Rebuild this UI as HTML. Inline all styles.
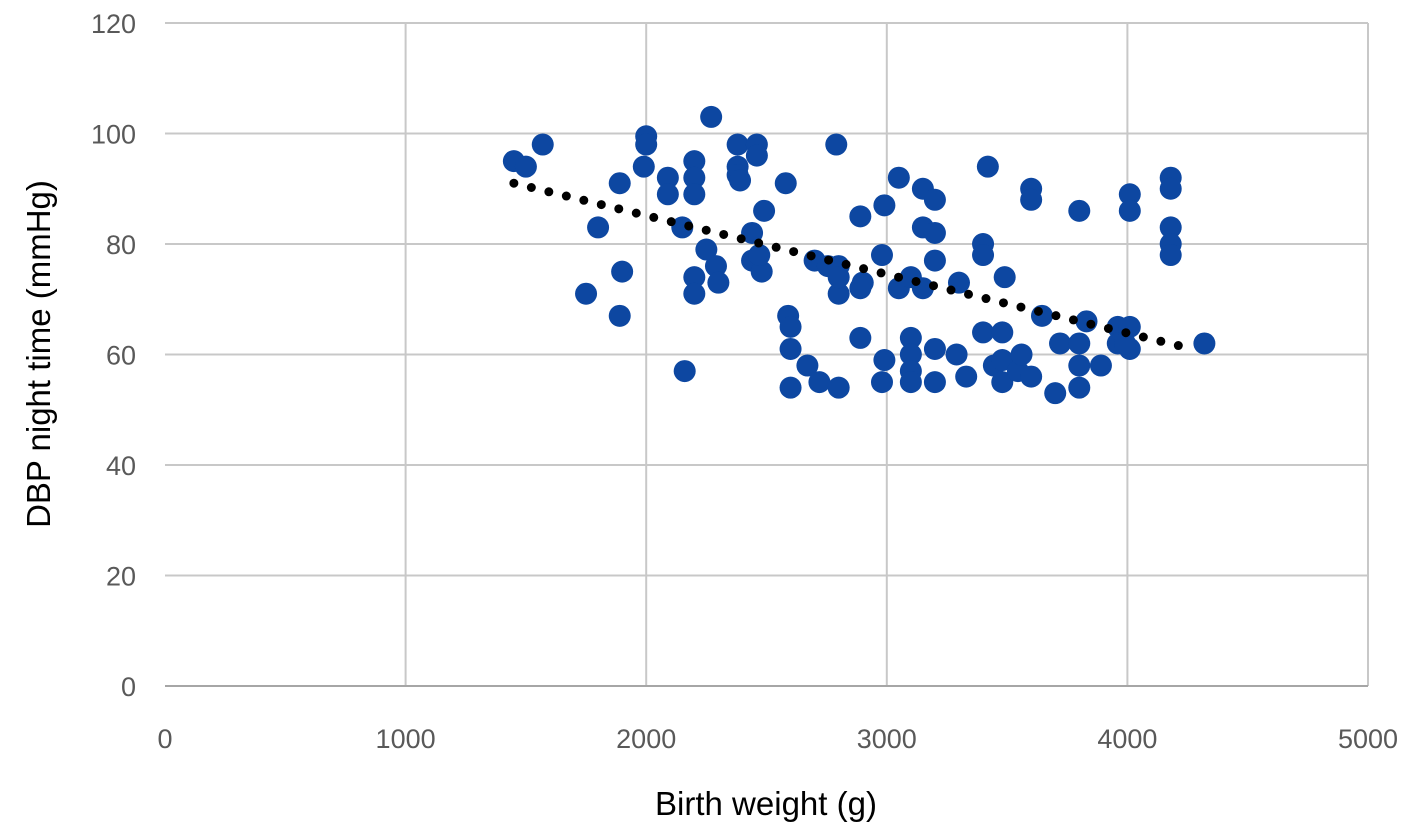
<!DOCTYPE html>
<html><head><meta charset="utf-8">
<style>
html,body{margin:0;padding:0;background:#fff;}
svg{display:block;font-family:"Liberation Sans",sans-serif;}
</style></head>
<body>
<svg id="chart" width="1416" height="831" viewBox="0 0 1416 831">
<g id="grid"></g>
<g id="axes"></g>
<g id="pts"></g>
<g id="trend"></g>
<text x="766" y="815" text-anchor="middle" font-size="33" fill="#000">Birth weight (g)</text>
<text transform="translate(50,354) rotate(-90)" text-anchor="middle" font-size="33" fill="#000">DBP night time (mmHg)</text>
</svg>
<script>
const xTicks=[0,1000,2000,3000,4000,5000];
const yTicks=[0,20,40,60,80,100,120];
const xs=[1450,1500,1570,1750,1800,1890,1900,1890,2000,2000,1990,2090,2090,2150,2160,2200,2200,2200,2200,2200,2270,2250,2290,2300,2380,2380,2380,2390,2460,2460,2440,2440,2480,2490,2470,2580,2590,2600,2600,2600,2670,2700,2720,2755,2790,2800,2800,2800,2800,2890,2900,2890,2890,2980,2980,2990,2990,3050,3050,3100,3100,3100,3100,3100,3150,3150,3150,3200,3200,3200,3200,3200,3290,3300,3330,3400,3400,3400,3420,3445,3490,3480,3480,3480,3545,3560,3600,3600,3600,3645,3700,3720,3800,3800,3800,3800,3830,3890,3960,3960,4010,4010,4010,4010,4180,4180,4180,4180,4180,4320,3990];
const ys=[95,94,98,71,83,91,75,67,99.5,98,94,92,89,83,57,95,92,89,74,71,103,79,76,73,98,94,92.5,91.5,98,96,82,77,75,86,78,91,67,65,61,54,58,77,55,76,98,71,76,74,54,85,73,72,63,55,78,87,59,92,72,74,63,60,57,55,90,83,72,88,82,77,61,55,60,73,56,80,78,64,94,58,74,64,59,55,57,60,90,88,56,67,53,62,86,62,58,54,66,58,65,62,89,86,61,65,92,90,83,80,78,62,62];
const trendX=[1450,4270];
const trendY=[91,61];
const X0=165,X1=1368,Y0=686,Y1=23;
const sx=v=>X0+(v-0)/5000*(X1-X0);
const sy=v=>Y0-(v-0)/120*(Y0-Y1);
const NS="http://www.w3.org/2000/svg";
function mk(t,a,p){const e=document.createElementNS(NS,t);for(const k in a)e.setAttribute(k,a[k]);p.appendChild(e);return e;}
const grid=document.getElementById('grid'),axes=document.getElementById('axes'),pts=document.getElementById('pts'),trend=document.getElementById('trend');
yTicks.forEach(v=>{
  if(v>0){const l=mk('line',{x1:X0,x2:X1,y1:sy(v),y2:sy(v),stroke:'#c8c8c8','stroke-width':2},grid);
  
  }
  const t=mk('text',{x:136,y:sy(v)+10,'text-anchor':'end','font-size':27,fill:'#595959'},axes);
  t.textContent=v;
  
  
});
xTicks.forEach(v=>{
  if(v>0){const l=mk('line',{x1:sx(v),x2:sx(v),y1:Y1,y2:Y0,stroke:'#c8c8c8','stroke-width':2},grid);
  
  }
  const t=mk('text',{x:sx(v),y:748,'text-anchor':'middle','font-size':27,fill:'#595959'},axes);
  t.textContent=v;
  
  
});
const xa=mk('line',{x1:X0,x2:X1,y1:Y0,y2:Y0,stroke:'#a6a6a6','stroke-width':2},axes);


xs.forEach((v,i)=>{
  const c=mk('circle',{cx:sx(v),cy:sy(ys[i]),r:11,fill:'#0d47a1'},pts);
  
  
});
const tl=mk('line',{x1:sx(trendX[0]),y1:sy(trendY[0]),x2:sx(trendX[1]),y2:sy(trendY[1]),stroke:'#000','stroke-width':9,'stroke-linecap':'round','stroke-dasharray':'0 18'},trend);


</script>
</body></html>
